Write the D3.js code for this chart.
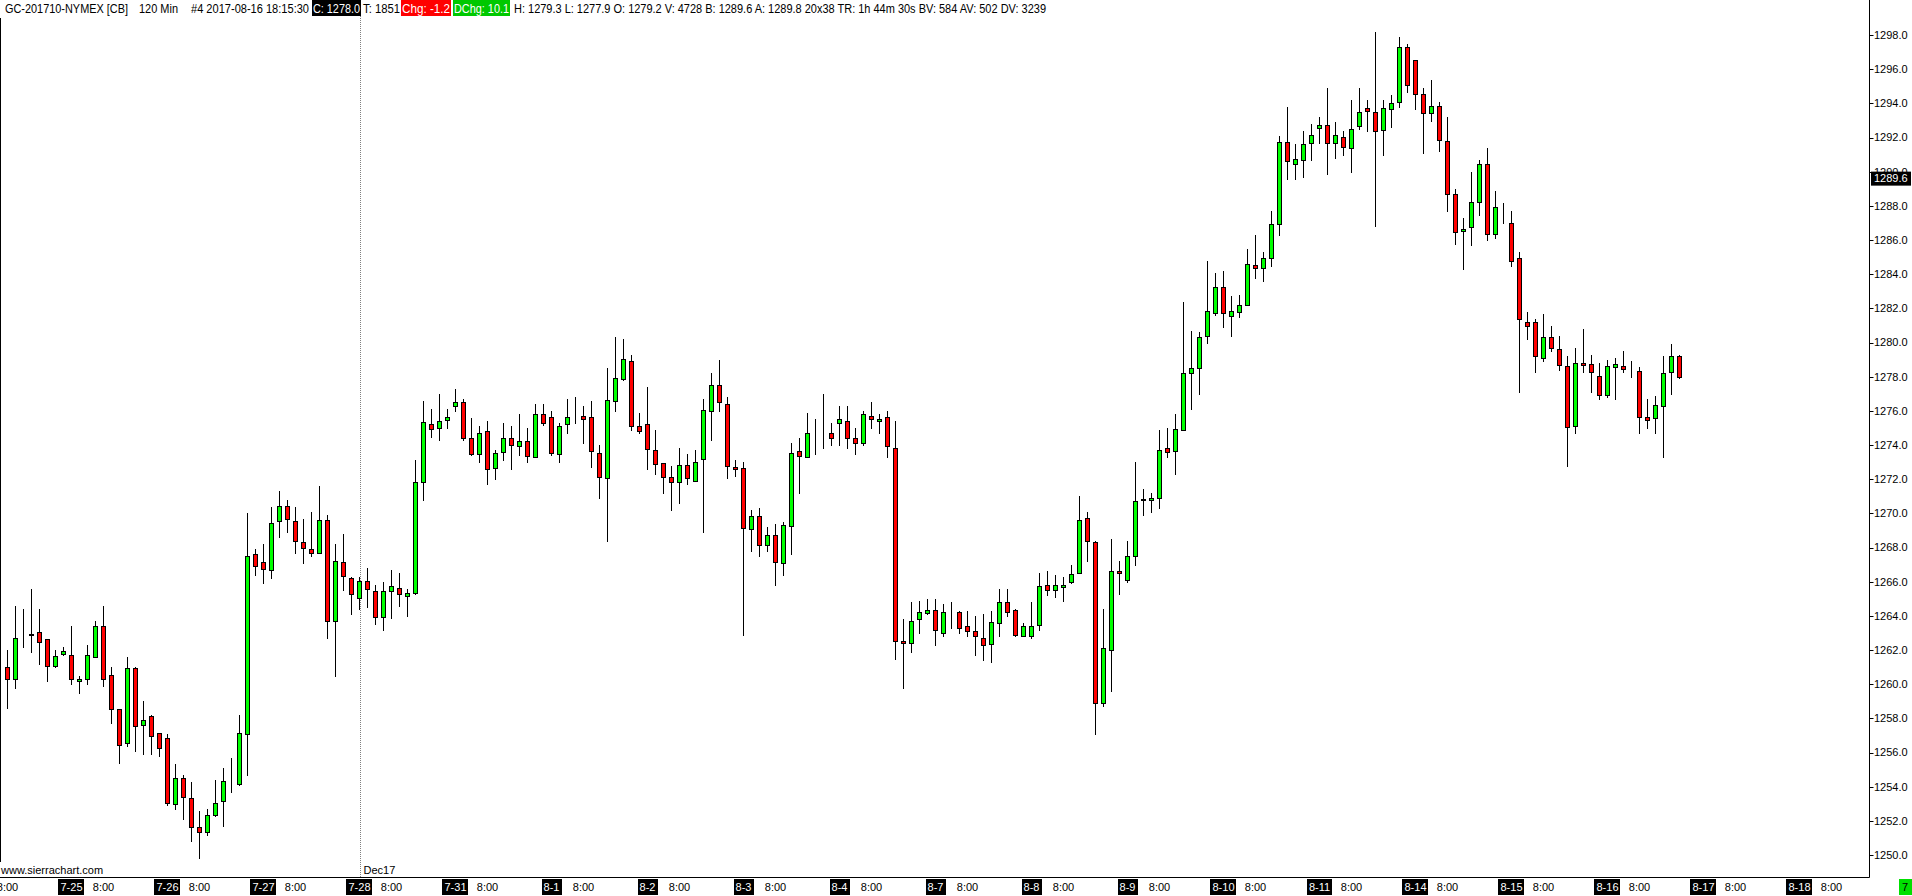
<!DOCTYPE html>
<html><head><meta charset="utf-8">
<script src="https://cdn.jsdelivr.net/npm/d3@7"></script>
<style>
html,body{margin:0;padding:0;background:#fff;overflow:hidden;}
svg{display:block;}
text{font-family:"Liberation Sans",Arial,sans-serif;}
</style></head><body>
<svg id="chart" width="1912" height="896"></svg>
<script>
// ---------- DATA (120 min bars, GC-201710) ----------
const opens = [
1261.0,1260.3,1262.8,1262.8,1263.0,1262.6,1261.0,1261.7,1261.7,1260.2,
1260.3,1261.6,1263.4,1260.5,1258.5,1256.5,1260.9,1257.6,1258.1,1257.1,
1256.8,1253.0,1254.5,1253.3,1251.6,1251.3,1252.3,1253.1,1254.3,1254.1,
1257.1,1267.6,1267.1,1266.6,1269.5,1270.4,1269.5,1268.3,1267.9,1267.7,
1269.6,1263.7,1267.1,1266.2,1265.0,1266.0,1265.4,1263.9,1265.4,1265.6,
1265.1,1265.3,1271.8,1275.2,1275.0,1275.4,1276.3,1276.5,1274.4,1273.5,
1274.8,1272.6,1273.6,1274.4,1273.9,1274.2,1273.3,1275.8,1275.6,1273.5,
1275.2,1275.7,1275.7,1275.6,1273.5,1272.0,1276.6,1277.8,1278.9,1275.1,
1275.2,1273.7,1272.9,1272.1,1271.8,1272.8,1271.9,1273.1,1276.0,1277.5,
1276.4,1272.7,1272.6,1269.0,1269.8,1268.1,1268.7,1267.1,1269.2,1273.6,
1273.3,1274.7,1274.6,1274.7,1275.3,1275.4,1274.4,1274.1,1275.7,1275.4,
1275.6,1273.8,1262.5,1262.4,1263.8,1264.1,1264.3,1263.0,1264.2,1264.2,
1263.4,1263.1,1262.7,1262.3,1263.6,1264.8,1264.3,1262.8,1262.8,1263.4,
1265.8,1265.5,1265.7,1265.9,1266.5,1269.7,1268.3,1258.9,1262.0,1266.6,
1266.1,1267.5,1270.7,1270.8,1270.9,1273.8,1273.6,1274.9,1278.2,1278.5,
1280.3,1281.7,1283.2,1281.5,1281.8,1282.2,1284.5,1284.3,1284.9,1286.9,
1291.7,1290.4,1290.7,1291.6,1292.5,1292.7,1291.6,1292.0,1291.4,1292.7,
1293.7,1293.5,1292.4,1293.7,1294.1,1297.3,1296.5,1294.5,1293.4,1293.8,
1291.8,1288.7,1286.5,1286.7,1288.2,1290.4,1286.3,1287.9,1287.0,1284.9,
1281.2,1281.2,1279.1,1280.3,1279.6,1278.6,1275.1,1278.8,1278.7,1278.0,
1276.9,1278.5,1278.6,1278.4,1278.3,1275.6,1275.5,1276.3,1278.3,1279.2];
const highs = [
1262.0,1264.6,1264.4,1265.6,1264.4,1262.6,1262.0,1262.2,1263.4,1260.5,
1262.3,1263.7,1264.6,1261.0,1258.5,1261.6,1261.0,1259.0,1258.2,1257.1,
1257.1,1255.3,1254.7,1254.3,1252.6,1252.7,1254.4,1255.1,1255.7,1258.2,
1270.0,1267.9,1268.2,1270.4,1271.3,1270.8,1270.4,1269.7,1270.1,1271.6,
1269.9,1268.2,1268.8,1266.3,1266.3,1266.8,1265.8,1266.0,1266.7,1266.5,
1265.6,1273.1,1276.6,1276.1,1277.0,1276.1,1277.3,1276.7,1275.6,1275.1,
1275.4,1273.7,1275.3,1275.1,1275.8,1275.0,1276.4,1276.4,1276.0,1275.3,
1276.7,1276.8,1276.3,1276.6,1274.0,1278.5,1280.3,1280.2,1279.3,1275.9,
1277.4,1274.9,1272.9,1272.8,1273.8,1273.5,1273.7,1276.7,1278.2,1279.0,
1276.8,1273.1,1273.0,1270.2,1270.3,1269.2,1269.4,1269.5,1274.1,1274.4,
1275.9,1275.5,1277.0,1275.3,1276.3,1276.3,1275.0,1276.0,1276.5,1275.8,
1276.0,1275.4,1263.8,1264.8,1264.9,1265.0,1265.0,1264.7,1264.8,1264.3,
1264.3,1264.0,1264.1,1264.3,1265.6,1265.6,1264.4,1263.6,1264.8,1266.5,
1266.6,1266.4,1266.3,1267.0,1271.0,1270.1,1268.4,1264.4,1268.5,1267.2,
1268.4,1273.0,1271.4,1271.2,1274.9,1275.0,1275.8,1282.4,1280.7,1280.6,
1284.8,1284.1,1284.2,1282.7,1282.8,1285.5,1286.3,1285.3,1287.7,1292.1,
1293.8,1291.6,1292.4,1292.8,1293.2,1294.9,1292.9,1292.4,1294.2,1294.9,
1294.2,1298.2,1294.2,1294.5,1297.9,1297.5,1296.5,1294.9,1295.4,1294.1,
1293.2,1289.0,1287.3,1290.0,1290.7,1291.4,1288.9,1288.2,1287.7,1285.3,
1281.8,1281.4,1281.7,1281.0,1280.4,1279.2,1279.7,1280.8,1279.3,1278.8,
1279.0,1279.1,1279.5,1278.9,1278.6,1276.7,1276.9,1279.2,1279.9,1279.3];
const lows = [
1258.6,1259.8,1262.2,1261.9,1261.2,1260.2,1261.0,1261.7,1260.0,1259.5,
1260.0,1261.6,1259.9,1257.7,1255.4,1256.4,1256.1,1255.9,1255.9,1255.8,
1252.9,1252.7,1252.1,1250.8,1249.8,1251.2,1252.3,1251.7,1253.7,1254.1,
1254.7,1266.4,1265.9,1266.2,1268.6,1268.9,1267.7,1267.1,1267.5,1267.7,
1262.7,1260.5,1265.5,1264.1,1264.4,1264.5,1263.5,1263.2,1263.9,1264.6,
1264.0,1265.3,1270.8,1274.5,1274.3,1275.0,1276.0,1274.3,1273.4,1273.0,
1271.7,1272.0,1273.1,1272.6,1273.4,1273.0,1273.3,1275.2,1273.4,1273.0,
1274.7,1275.3,1274.1,1272.7,1270.9,1268.4,1276.0,1277.8,1274.9,1274.7,
1272.6,1272.3,1271.2,1270.2,1270.6,1271.7,1271.9,1268.9,1274.3,1276.0,
1272.1,1272.2,1262.9,1267.8,1267.5,1267.8,1265.8,1266.4,1267.6,1271.2,
1273.3,1273.5,1273.8,1274.0,1274.0,1273.8,1273.5,1274.0,1275.0,1274.7,
1273.3,1261.5,1259.8,1261.9,1263.0,1264.1,1262.3,1262.8,1263.3,1263.0,
1262.8,1261.7,1261.4,1261.3,1262.8,1264.0,1262.8,1262.8,1262.7,1263.2,
1265.2,1265.1,1264.9,1265.9,1266.5,1267.2,1257.1,1258.7,1259.6,1265.3,
1266.0,1267.0,1269.9,1270.1,1270.3,1273.3,1272.3,1274.9,1276.1,1277.0,
1280.0,1281.6,1280.9,1280.4,1281.5,1282.2,1283.8,1283.6,1284.5,1286.3,
1289.6,1289.6,1289.7,1290.7,1291.7,1289.9,1290.8,1291.0,1290.0,1292.5,
1292.4,1286.8,1291.0,1292.6,1293.8,1294.7,1293.7,1291.1,1293.0,1291.2,
1287.7,1285.8,1284.3,1285.7,1287.5,1286.0,1286.1,1287.0,1284.5,1277.1,
1280.2,1278.3,1278.9,1279.5,1278.4,1272.8,1274.7,1278.3,1277.1,1276.7,
1276.8,1276.7,1278.3,1278.0,1274.7,1275.0,1274.7,1273.3,1277.0,1277.9];
const closes = [
1260.3,1262.7,1262.8,1262.9,1262.4,1261.0,1261.6,1261.9,1260.3,1260.3,
1261.7,1263.4,1260.3,1258.5,1256.4,1260.9,1257.5,1257.9,1256.9,1256.2,
1253.0,1254.5,1253.4,1251.6,1251.3,1252.3,1253.0,1254.3,1254.3,1257.1,
1267.5,1266.9,1266.7,1269.4,1270.4,1269.6,1268.3,1268.0,1267.7,1269.6,
1263.7,1267.2,1266.3,1265.3,1266.0,1265.5,1263.9,1265.4,1265.7,1265.2,
1265.3,1271.8,1275.3,1274.9,1275.4,1275.6,1276.5,1274.4,1273.5,1274.7,
1272.6,1273.5,1274.4,1274.0,1274.2,1273.3,1275.8,1275.3,1273.5,1275.1,
1275.6,1275.7,1275.5,1273.6,1272.1,1276.6,1277.9,1279.0,1275.1,1274.8,
1273.7,1272.9,1272.1,1271.8,1272.8,1272.0,1273.0,1276.0,1277.5,1276.5,
1272.8,1272.6,1269.1,1269.8,1268.1,1268.7,1267.1,1269.3,1273.5,1273.3,
1274.7,1274.7,1274.6,1274.4,1275.5,1274.4,1274.1,1275.8,1275.5,1275.5,
1273.9,1262.5,1262.4,1263.7,1264.2,1264.3,1263.1,1264.2,1264.2,1263.3,
1263.1,1262.8,1262.3,1263.6,1264.8,1264.2,1262.8,1263.4,1263.4,1265.7,
1265.5,1265.8,1265.8,1266.4,1269.6,1268.3,1258.9,1262.1,1266.6,1266.5,
1267.5,1270.7,1270.8,1270.9,1273.7,1273.6,1274.9,1278.2,1278.5,1280.3,
1281.8,1283.2,1281.7,1281.8,1282.2,1284.6,1284.3,1284.9,1286.9,1291.7,
1290.6,1290.7,1291.6,1292.1,1292.7,1291.6,1292.1,1291.4,1292.5,1293.5,
1293.5,1292.4,1293.7,1294.0,1297.3,1295.1,1294.5,1293.4,1293.8,1291.8,
1288.7,1286.5,1286.6,1288.2,1290.4,1286.3,1287.9,1287.9,1284.8,1281.3,
1281.0,1279.2,1280.3,1279.7,1278.7,1275.0,1278.8,1278.7,1278.2,1276.9,
1278.6,1278.7,1278.4,1278.4,1275.6,1275.4,1276.3,1278.2,1279.2,1278.0];

const dayLabels = ["7-25","7-26","7-27","7-28","7-31","8-1","8-2","8-3","8-4","8-7",
                   "8-8","8-9","8-10","8-11","8-14","8-15","8-16","8-17","8-18"];
const hourLabel = "8:00";
const firstDayBar = 8;      // bar index where "7-25" begins
const barsPerDay = 12;      // 120-minute bars
const hourOffset = 4;       // "8:00" bar offset inside each day
const yTickValues = [1250,1252,1254,1256,1258,1260,1262,1264,1266,1268,1270,1272,1274,
                     1276,1278,1280,1282,1284,1286,1288,1290,1292,1294,1296,1298];
const rollBar = 44;          // contract roll marker (Dec17)
const rollLabel = "Dec17";
const bidPrice = 1289.6;
const headerParts = [
  {t:"GC-201710-NYMEX [CB]", bg:null},
  {t:"120 Min", bg:null},
  {t:"#4 2017-08-16 18:15:30", bg:null},
  {t:"C: 1278.0", bg:"#000000"},
  {t:"T: 1851", bg:null},
  {t:"Chg: -1.2", bg:"#ff0000"},
  {t:"DChg: 10.1", bg:"#00c800"},
  {t:"H: 1279.3 L: 1277.9 O: 1279.2 V: 4728 B: 1289.6 A: 1289.8 20x38 TR: 1h 44m 30s BV: 584 AV: 502 DV: 3239", bg:null}
];
// layout for header parts (x start, width)
const headerLayout = [[5,123],[139,39],[191,118],[312,49],[363,37],[401,50],[453,57],[514,532]];

// ---------- CHART ----------
const svg = d3.select("#chart");
const W = 1912, H = 896;
const axisX = 1869.5, axisY = 877.5;
const n = opens.length;
const bars = d3.range(n).map(i => ({i, o:opens[i], h:highs[i], l:lows[i], c:closes[i]}));

const x = d3.scaleLinear().domain([0, n-1]).range([7.5, 7.5 + 8*(n-1)]);
const y = d3.scaleLinear().domain([1250, 1298]).range([855, 35.16]);
const px = v => Math.round(v) + 0.5;

// roll marker dotted line
svg.append("line")
  .attr("x1", px(x(rollBar))).attr("x2", px(x(rollBar)))
  .attr("y1", 0).attr("y2", axisY)
  .attr("stroke", "#808080").attr("stroke-width", 1).attr("stroke-dasharray", "1,1");

// left border
svg.append("line").attr("x1",0.5).attr("x2",0.5).attr("y1",18).attr("y2",862)
  .attr("stroke","#000").attr("stroke-width",1);

const g = svg.append("g");
// wicks
g.selectAll("line.wick").data(bars).join("line")
  .attr("class","wick")
  .attr("x1", d => px(x(d.i) - 0.5)).attr("x2", d => px(x(d.i) - 0.5))
  .attr("y1", d => Math.round(y(d.h))).attr("y2", d => Math.round(y(d.l)) + 1)
  .attr("stroke", "#000").attr("stroke-width", 1);
// bodies
g.selectAll("rect.body").data(bars).join("rect")
  .attr("class","body")
  .attr("x", d => px(x(d.i) - 0.5) - 2)
  .attr("width", 4)
  .attr("y", d => px(y(Math.max(d.o, d.c)) - 0.5))
  .attr("height", d => Math.max(0, Math.round(y(Math.min(d.o, d.c))) - Math.round(y(Math.max(d.o, d.c)))))
  .attr("fill", d => d.c >= d.o ? "#00ff00" : "#ff0000")
  .attr("stroke", "#000").attr("stroke-width", 1);

// y axis
svg.append("line").attr("x1",axisX).attr("x2",axisX).attr("y1",0).attr("y2",axisY)
  .attr("stroke","#000").attr("stroke-width",1);
const yt = svg.append("g");
yTickValues.forEach(v => {
  const yy = px(y(v));
  yt.append("line").attr("x1",axisX).attr("x2",axisX+4).attr("y1",yy).attr("y2",yy)
    .attr("stroke","#000").attr("stroke-width",1);
  yt.append("text").attr("x",1874).attr("y",y(v)).attr("dy","0.35em")
    .attr("font-size",11).attr("fill","#000").text(v.toFixed(1));
});
// bid marker
const by = y(bidPrice);
svg.append("rect").attr("x",1871).attr("y",by-7).attr("width",40).attr("height",14).attr("fill","#000");
svg.append("text").attr("x",1874).attr("y",by).attr("dy","0.35em").attr("font-size",11)
  .attr("fill","#fff").text(bidPrice.toFixed(1));

// x axis
svg.append("line").attr("x1",0).attr("x2",axisX).attr("y1",axisY).attr("y2",axisY)
  .attr("stroke","#000").attr("stroke-width",1);
const xt = svg.append("g");
const labelY = 887;
dayLabels.forEach((lab, j) => {
  const b = firstDayBar + barsPerDay*j;
  const cx = x(b);
  const t = xt.append("text").attr("x",cx).attr("y",labelY).attr("dy","0.35em")
    .attr("text-anchor","middle").attr("font-size",11).attr("fill","#fff").text(lab);
  const w = t.node().getComputedTextLength();
  xt.insert("rect","text").attr("x",Math.round(cx - w/2 - 2)).attr("y",879).attr("width",Math.round(w+4)).attr("height",16).attr("fill","#000");
});
for (let j = 0; j <= dayLabels.length; j++) {
  const b = firstDayBar - barsPerDay + hourOffset + barsPerDay*j;
  xt.append("text").attr("x",x(b)).attr("y",labelY).attr("dy","0.35em")
    .attr("text-anchor","middle").attr("font-size",11).attr("fill","#000").text(hourLabel);
}
// green status box bottom right
svg.append("rect").attr("x",1899).attr("y",879).attr("width",13).attr("height",16).attr("fill","#00e000");
svg.append("text").attr("x",1905).attr("y",labelY).attr("dy","0.35em").attr("text-anchor","middle")
  .attr("font-size",11).attr("fill","#000").text("7");

// footer texts
svg.append("text").attr("x",1).attr("y",874).attr("font-size",11).attr("fill","#000").text("www.sierrachart.com");
svg.append("text").attr("x",px(x(rollBar))+3).attr("y",874).attr("font-size",11).attr("fill","#000").text(rollLabel);

// header
const hg = svg.append("g");
headerParts.forEach((p, k) => {
  const [hx, hw] = headerLayout[k];
  if (p.bg) hg.append("rect").attr("x",hx).attr("y",0).attr("width",hw).attr("height",16).attr("fill",p.bg);
  hg.append("text").attr("x", p.bg ? hx+1 : hx).attr("y",12.5).attr("font-size",12)
    .attr("fill", p.bg ? "#fff" : "#000")
    .attr("textLength", p.bg ? hw-2 : hw).attr("lengthAdjust","spacingAndGlyphs").text(p.t);
});
</script>
</body></html>
